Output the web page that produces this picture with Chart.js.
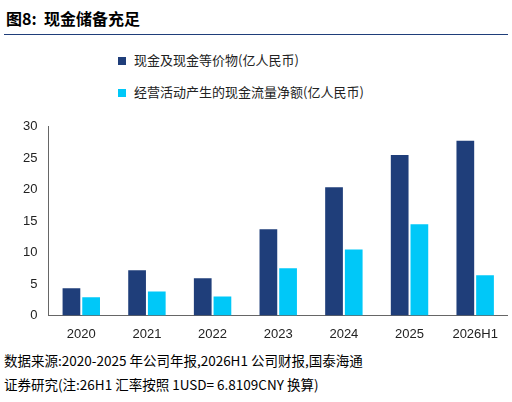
<!DOCTYPE html>
<html><head><meta charset="utf-8">
<script src="https://cdn.jsdelivr.net/npm/chart.js@4"></script>
<style>
body{margin:0;width:512px;height:402px;background:#fff;font-family:"Noto Sans CJK SC",sans-serif;overflow:hidden}
#title{position:absolute;left:6px;top:6px;font-size:16px;font-weight:bold;color:#000}
#rule{position:absolute;left:4px;top:34px;width:504px;border-top:1.5px solid #1F3E7A}
#legend{position:absolute;left:118px;top:44px;font-size:13px;color:#222;line-height:32px}
#legend span.box{display:inline-block;width:8px;height:8px;margin-right:8px}
#wrap{position:absolute;left:20px;top:116px;width:488px;height:229px}
#foot{position:absolute;left:4px;top:348px;font-size:13.5px;color:#000;line-height:24px}
</style></head><body>
<div id="title">图8:&nbsp; 现金储备充足</div>
<div id="rule"></div>
<div id="legend">
<div><span class="box" style="background:#1F3E7A"></span>现金及现金等价物(亿人民币)</div>
<div><span class="box" style="background:#00C8F8"></span>经营活动产生的现金流量净额(亿人民币)</div>
</div>
<div id="wrap"><canvas id="chart"></canvas></div>
<div id="foot">数据来源:2020-2025 年公司年报,2026H1 公司财报,国泰海通<br>证券研究(注:26H1 汇率按照 1USD= 6.8109CNY 换算)</div>
<script>
const categories = ['2020', '2021', '2022', '2023', '2024', '2025', '2026H1'];
const cashValues = [4.3, 7.2, 5.9, 13.7, 20.4, 25.5, 27.8];
const opCashValues = [2.9, 3.8, 3.0, 7.5, 10.5, 14.5, 6.4];
new Chart(document.getElementById('chart'), {
  type: 'bar',
  data: {
    labels: categories,
    datasets: [
      { label: '现金及现金等价物(亿人民币)', data: cashValues, backgroundColor: '#1F3E7A', categoryPercentage: 0.6, barPercentage: 0.9 },
      { label: '经营活动产生的现金流量净额(亿人民币)', data: opCashValues, backgroundColor: '#00C8F8', categoryPercentage: 0.6, barPercentage: 0.9 },
    ],
  },
  options: {
    responsive: true, maintainAspectRatio: false, animation: false,
    plugins: { legend: { display: false }, tooltip: { enabled: false } },
    scales: {
      x: { grid: { display: false }, border: { color: '#666' }, ticks: { color: '#222', font: { size: 13 } } },
      y: { min: 0, max: 30, ticks: { stepSize: 5, color: '#222', font: { size: 13 } }, grid: { display: false }, border: { color: '#666' } },
    },
  },
});
</script>
</body></html>
